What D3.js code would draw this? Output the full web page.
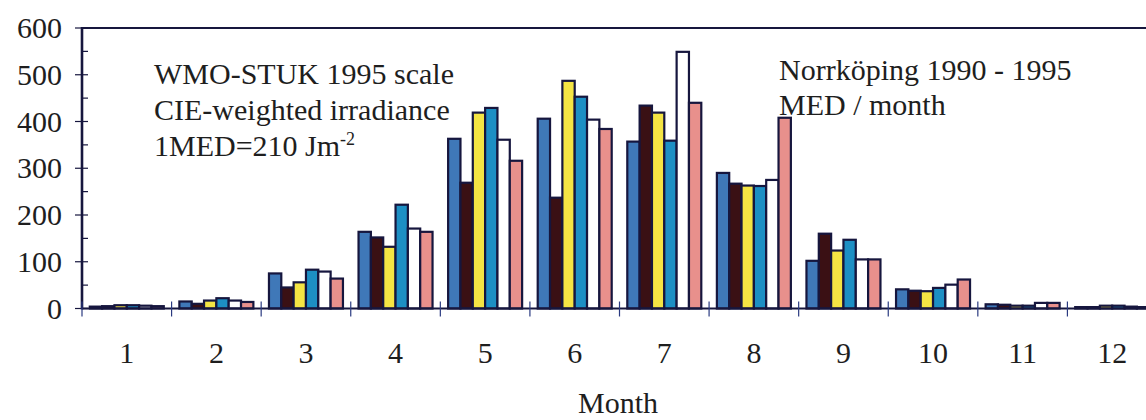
<!DOCTYPE html>
<html><head><meta charset="utf-8">
<script src="https://cdn.jsdelivr.net/npm/d3@7"></script>
<style>
body{margin:0;background:#fff;overflow:hidden}
text{font-family:"Liberation Serif","Times New Roman",serif;fill:#1e1e1e}
</style>
</head><body><svg id="c" width="1146" height="420"></svg>
<script>
const months = ["1","2","3","4","5","6","7","8","9","10","11","12"];
const years = ["1990","1991","1992","1993","1994","1995"];
const med1990 = [4, 15, 75, 164, 363, 406, 357, 290, 102, 41, 9, 3];
const med1991 = [5, 10, 45, 152, 269, 237, 434, 267, 160, 38, 8, 3];
const med1992 = [7, 17, 56, 132, 419, 487, 419, 263, 124, 37, 6, 6];
const med1993 = [7, 22, 83, 222, 429, 453, 359, 262, 147, 44, 6, 6];
const med1994 = [6, 17, 79, 171, 361, 404, 549, 275, 105, 51, 12, 4];
const med1995 = [5, 14, 64, 164, 316, 384, 440, 408, 105, 62, 12, 3];
const yTicks = [0, 100, 200, 300, 400, 500, 600];
const yMinorTicks = [50, 150, 250, 350, 450, 550];
const seriesColors = ["#3f78b8", "#3a1014", "#f4e444", "#1d8fc4", "#ffffff", "#e8908c"];
const xTitle = "Month";
const leftNote = ["WMO-STUK 1995 scale", "CIE-weighted irradiance"];
const rightNote = ["Norrköping 1990 - 1995", "MED / month"];

const series = [med1990, med1991, med1992, med1993, med1994, med1995];
const svg = d3.select("#c");
const ink = "#16163e";

const x0 = d3.scaleBand().domain(months).range([82, 1157]).paddingInner(0.174).paddingOuter(0.087);
const x1 = d3.scaleBand().domain(years).range([0, x0.bandwidth()]);
const y = d3.scaleLinear().domain([0, 600]).range([308.5, 28]);
const color = d3.scaleOrdinal().domain(years).range(seriesColors);

// bars
const rows = months.map((m, i) => ({m, vals: years.map((yr, j) => ({yr, v: series[j][i]}))}));
const g = svg.append("g").selectAll("g").data(rows).join("g")
  .attr("transform", d => `translate(${x0(d.m)},0)`);
g.selectAll("rect").data(d => d.vals).join("rect")
  .attr("x", d => x1(d.yr))
  .attr("width", x1.bandwidth())
  .attr("y", d => y(d.v))
  .attr("height", d => y(0) - y(d.v))
  .attr("fill", d => color(d.yr))
  .attr("stroke", ink).attr("stroke-width", 2.2);

// frame lines
svg.append("line").attr("x1", 82).attr("x2", 1146).attr("y1", y(600)).attr("y2", y(600))
  .attr("stroke", ink).attr("stroke-width", 2);
svg.append("line").attr("x1", 82).attr("x2", 1146).attr("y1", y(0)).attr("y2", y(0))
  .attr("stroke", ink).attr("stroke-width", 2.2);
svg.append("line").attr("x1", 82).attr("x2", 82).attr("y1", y(600) - 1).attr("y2", y(0) + 1)
  .attr("stroke", ink).attr("stroke-width", 2.6);

// y ticks
svg.append("g").selectAll("line").data(yTicks).join("line")
  .attr("x1", 75).attr("x2", 88).attr("y1", d => y(d)).attr("y2", d => y(d))
  .attr("stroke", ink).attr("stroke-width", 1.2);
svg.append("g").selectAll("line").data(yMinorTicks).join("line")
  .attr("x1", 82).attr("x2", 88).attr("y1", d => y(d)).attr("y2", d => y(d))
  .attr("stroke", ink).attr("stroke-width", 1.2);
svg.append("g").selectAll("text").data(yTicks).join("text")
  .attr("x", 62).attr("y", d => y(d) + 10).attr("text-anchor", "end")
  .attr("font-size", 30).text(d => d);

// x ticks at category boundaries
const step = x0.step();
const bounds = months.map((m, i) => x0(m) - step * x0.paddingInner() / 2);
svg.append("g").selectAll("line").data(bounds).join("line")
  .attr("x1", d => d).attr("x2", d => d).attr("y1", y(0) - 7).attr("y2", y(0) + 8)
  .attr("stroke", "#2a3a80").attr("stroke-width", 1.2);
svg.append("g").selectAll("text").data(months).join("text")
  .attr("x", d => x0(d) + x0.bandwidth() / 2).attr("y", 363).attr("text-anchor", "middle")
  .attr("font-size", 30).text(d => d);

svg.append("text").attr("x", 618).attr("y", 413).attr("text-anchor", "middle")
  .attr("font-size", 30).text(xTitle);

// notes
svg.append("g").selectAll("text").data(leftNote).join("text")
  .attr("x", 154).attr("y", (d, i) => 84 + i * 36).attr("font-size", 30).text(d => d);
const t3 = svg.append("text").attr("x", 154).attr("y", 156).attr("font-size", 30);
t3.append("tspan").text("1MED=210 Jm");
t3.append("tspan").attr("dy", -11).attr("font-size", 18).text("-2");
svg.append("g").selectAll("text").data(rightNote).join("text")
  .attr("x", 779).attr("y", (d, i) => 80 + i * 35).attr("font-size", 30).text(d => d);
</script>
</body></html>
